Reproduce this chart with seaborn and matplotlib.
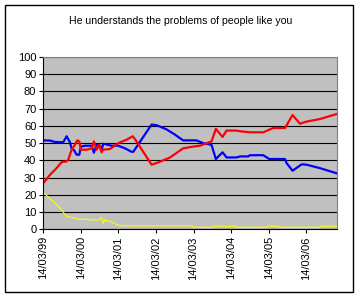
import matplotlib
matplotlib.use("Agg")
import matplotlib.pyplot as plt
import matplotlib.dates as mdates
from matplotlib.patches import Rectangle
import seaborn as sns
import pandas as pd

title = "He understands the problems of people like you"

blue_dates = ["1999-03-14", "1999-05-18", "1999-07-05", "1999-09-24", "1999-10-27", "1999-11-28",
              "1999-12-14", "2000-01-06", "2000-02-01", "2000-02-27", "2000-03-14", "2000-04-22",
              "2000-06-26", "2000-07-18", "2000-08-13", "2000-09-15", "2000-10-01", "2000-10-17",
              "2001-01-06", "2001-03-12", "2001-05-16", "2001-07-19", "2001-08-05", "2002-01-30",
              "2002-03-20", "2002-06-24", "2002-09-13", "2002-12-03", "2003-04-12", "2003-06-16",
              "2003-09-05", "2003-10-17", "2003-12-21", "2004-01-29", "2004-05-05", "2004-06-07",
              "2004-08-27", "2004-09-12", "2005-01-20", "2005-03-19", "2005-08-19", "2005-09-04",
              "2005-11-01", "2006-01-28", "2006-03-17", "2006-07-25", "2007-01-10"]
blue_values = [51.6, 51.5, 50.7, 50.5, 54, 50.5,
               47, 46, 43.3, 43.3, 48, 48.5,
               48.5, 44.5, 49, 48.5, 46, 49.7,
               48.5, 48.5, 47, 45, 45, 60.8,
               60.4, 58, 55, 51.6, 51.6, 50,
               49, 40.8, 44.7, 41.7, 41.7, 42.3,
               42.3, 43, 43, 40.8, 40.8, 38.4,
               34, 37.7, 37.5, 35.5, 32.4]

red_dates = ["1999-03-14", "1999-05-18", "1999-07-21", "1999-09-08", "1999-10-27", "1999-11-12",
             "1999-12-14", "2000-01-15", "2000-02-07", "2000-02-27", "2000-03-14", "2000-05-08",
             "2000-06-26", "2000-07-18", "2000-08-13", "2000-09-08", "2000-10-01", "2000-10-17",
             "2000-12-21", "2001-03-12", "2001-06-01", "2001-07-30", "2001-08-21", "2002-01-30",
             "2002-04-05", "2002-07-29", "2002-12-03", "2003-03-11", "2003-05-15", "2003-09-05",
             "2003-10-17", "2003-12-21", "2004-01-29", "2004-05-05", "2004-06-07", "2004-09-12",
             "2005-01-20", "2005-04-27", "2005-08-19", "2005-11-01", "2006-01-12", "2006-03-17",
             "2006-07-25", "2007-01-10"]
red_values = [26.8, 31.6, 35.5, 39, 39.4, 40.4,
              46.2, 49, 51.6, 51, 46.2, 46.2,
              47, 51, 46.2, 49, 44.7, 46.2,
              46.6, 50, 52, 54, 52.4, 37.5,
              38.8, 41.7, 47, 48, 48.5, 51,
              58.3, 53.6, 57.3, 57.3, 56.9, 56.3,
              56.3, 58.8, 58.8, 66.3, 61.3, 62.5,
              64, 67]

yellow_dates = ["1999-03-14", "1999-06-20", "1999-08-24", "1999-10-27", "1999-12-14", "2000-02-17",
                "2000-05-08", "2000-06-26", "2000-08-30", "2000-10-01", "2000-10-17", "2000-11-02",
                "2000-12-21", "2001-03-12", "2001-04-23", "2003-02-23", "2003-03-11", "2003-09-24",
                "2003-10-10", "2003-12-29", "2004-01-29", "2004-04-17", "2004-05-05", "2005-02-20",
                "2005-03-08", "2005-06-10", "2005-06-26", "2006-07-25", "2006-08-10", "2007-01-10"]
yellow_values = [21.4, 16, 12.2, 7.4, 7, 5.8,
                 5.8, 5.4, 5.4, 7, 3.5, 5.4,
                 4.5, 2.5, 2, 2, 1.2, 1.2,
                 1.8, 1.8, 1.6, 1.8, 1.2, 1.2,
                 1.8, 1.8, 1.2, 1.2, 1.8, 1.8]

tick_dates = ["1999-03-14", "2000-03-14", "2001-03-14", "2002-03-14",
              "2003-03-14", "2004-03-14", "2005-03-14", "2006-03-14"]

plt.rcParams['font.family'] = ['Liberation Sans', 'DejaVu Sans']

fig = plt.figure(figsize=(3.62, 2.96), dpi=100)
fig.patch.set_facecolor("white")
ax = fig.add_axes([43.3 / 362, 1 - 229.3 / 296, (337.3 - 43.3) / 362, (229.3 - 57) / 296])
ax.set_facecolor("#C0C0C0")

for d, v, c, lw in [(yellow_dates, yellow_values, "#FFFF00", 0.8),
                    (blue_dates, blue_values, "#0000FF", 1.6),
                    (red_dates, red_values, "#FF0000", 1.6)]:
    df = pd.DataFrame({"date": pd.to_datetime(d), "value": v})
    sns.lineplot(data=df, x="date", y="value", color=c, linewidth=lw, ax=ax, legend=False)

ax.set_ylim(0, 100)
ax.set_yticks(range(0, 101, 10))
ax.set_xlim(pd.Timestamp("1999-03-14"), pd.Timestamp("2007-01-10"))
ax.set_xticks(pd.to_datetime(tick_dates))
ax.xaxis.set_major_formatter(mdates.DateFormatter("%d/%m/%y"))
ax.grid(axis="y", color="black", linewidth=0.8)
ax.set_axisbelow(True)
ax.set_xlabel("")
ax.set_ylabel("")
for lab in ax.get_xticklabels():
    lab.set_rotation(90)
ax.tick_params(axis="both", labelsize=8, colors="black", length=3, width=0.8, direction="out", pad=2)
ax.spines["left"].set_color("black")
ax.spines["bottom"].set_color("black")
ax.spines["top"].set_color("#808080")
ax.spines["right"].set_color("#808080")
for s in ax.spines.values():
    s.set_linewidth(0.8)

fig.text(181 / 362, 1 - 21 / 296, title, ha="center", va="center", fontsize=7.6, color="black")
fig.patches.append(Rectangle((5 / 362, 1 - 292 / 296), 348 / 362, 287 / 296, transform=fig.transFigure,
                             fill=False, edgecolor="black", linewidth=1.0))

fig.savefig("out.png", dpi=100)
